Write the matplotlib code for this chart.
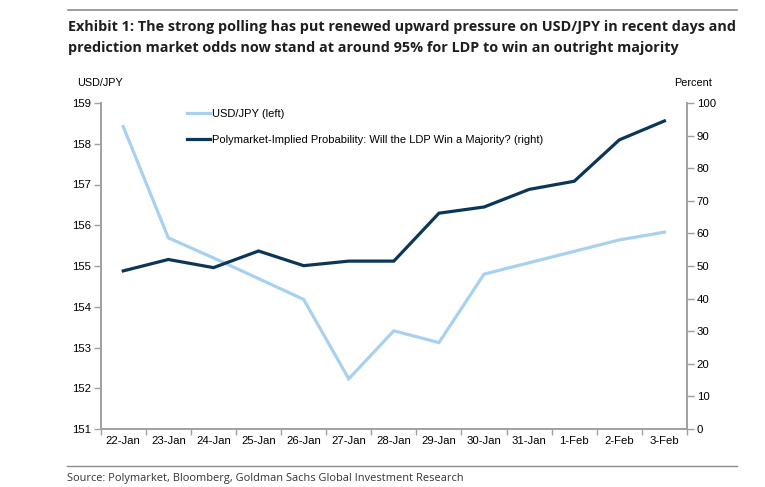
import numpy as np
import matplotlib
matplotlib.use('Agg')
import matplotlib.pyplot as plt

plt.rcParams['font.family'] = ['Liberation Sans', 'DejaVu Sans']

# data
dates = ['22-Jan', '23-Jan', '24-Jan', '25-Jan', '26-Jan', '27-Jan', '28-Jan',
         '29-Jan', '30-Jan', '31-Jan', '1-Feb', '2-Feb', '3-Feb']
usdjpy = [158.42, 155.69, 155.20, 154.69, 154.18, 152.23, 153.41,
          153.12, 154.80, 155.08, 155.36, 155.64, 155.83]
ldp_prob = [48.5, 52.0, 49.5, 54.6, 50.1, 51.5, 51.5,
            66.2, 68.1, 73.5, 76.0, 88.7, 94.5]

light = '#a8d1f0'
navy = '#0c3658'
grey = '#a0a0a0'
W, H = 765, 487
fs = 8.2

fig = plt.figure(figsize=(W / 100, H / 100), dpi=100)
ax = fig.add_axes([100.7 / W, 1 - 429 / H, (687 - 100.7) / W, (429 - 103) / H])
ax2 = ax.twinx()

x = np.arange(len(dates))
l1, = ax.plot(x, usdjpy, color=light, lw=2.3, solid_joinstyle='miter')
l2, = ax2.plot(x, ldp_prob, color=navy, lw=2.3, solid_joinstyle='miter')

ax.set_xlim(-0.5, len(dates) - 0.5)
ax.set_ylim(151, 159)
ax.set_yticks(np.arange(151, 160, 1))
ax2.set_ylim(0, 100)
ax2.set_yticks(np.arange(0, 101, 10))

# category style x axis: ticks on boundaries, labels in between
ax.set_xticks(np.arange(-0.5, len(dates), 1))
ax.set_xticklabels([])
ax.set_xticks(x, minor=True)
ax.set_xticklabels(dates, minor=True)
ax.tick_params(axis='x', which='major', length=4, width=1, color=grey, direction='out')
ax.tick_params(axis='x', which='minor', length=0, pad=5, labelsize=fs)
ax.tick_params(axis='y', length=5, width=1, color=grey, labelsize=fs, pad=2)
ax2.tick_params(axis='y', length=5, width=1, color=grey, labelsize=fs, pad=2)

for a in (ax, ax2):
    a.spines['top'].set_visible(False)
    for s in ['left', 'right', 'bottom']:
        a.spines[s].set_color(grey)
        a.spines[s].set_linewidth(1.2)

ax.legend([l1, l2], ['USD/JPY (left)',
                     'Polymarket-Implied Probability: Will the LDP Win a Majority? (right)'],
          loc='upper left', bbox_to_anchor=(0.13, 1.012), frameon=False,
          fontsize=8, handlelength=2.1, handletextpad=0.2, labelspacing=1.4)

fig.text(77 / W, 1 - 83 / H, 'USD/JPY', fontsize=7.8, va='center', ha='left')
fig.text(712 / W, 1 - 83 / H, 'Percent', fontsize=7.8, va='center', ha='right')

# title, rules and source
fig.add_artist(plt.Line2D([68 / W, 737 / W], [1 - 10 / H, 1 - 10 / H], color='#8c8c8c', lw=1.2))
fig.text(68 / W, 1 - 27 / H,
         'Exhibit 1: The strong polling has put renewed upward pressure on USD/JPY in recent days and',
         fontsize=10.4, fontweight='bold', family=['Open Sans', 'DejaVu Sans'],
         color='#1e1e1e', va='center', ha='left')
fig.text(68 / W, 1 - 48 / H,
         'prediction market odds now stand at around 95% for LDP to win an outright majority',
         fontsize=10.4, fontweight='bold', family=['Open Sans', 'DejaVu Sans'],
         color='#1e1e1e', va='center', ha='left')
fig.add_artist(plt.Line2D([67 / W, 737 / W], [1 - 466 / H, 1 - 466 / H], color='#8c8c8c', lw=1.0))
fig.text(67 / W, 1 - 479 / H,
         'Source: Polymarket, Bloomberg, Goldman Sachs Global Investment Research',
         fontsize=7.95, family=['Open Sans', 'DejaVu Sans'], color='#333333',
         va='center', ha='left')

fig.savefig('out.png', dpi=100)
